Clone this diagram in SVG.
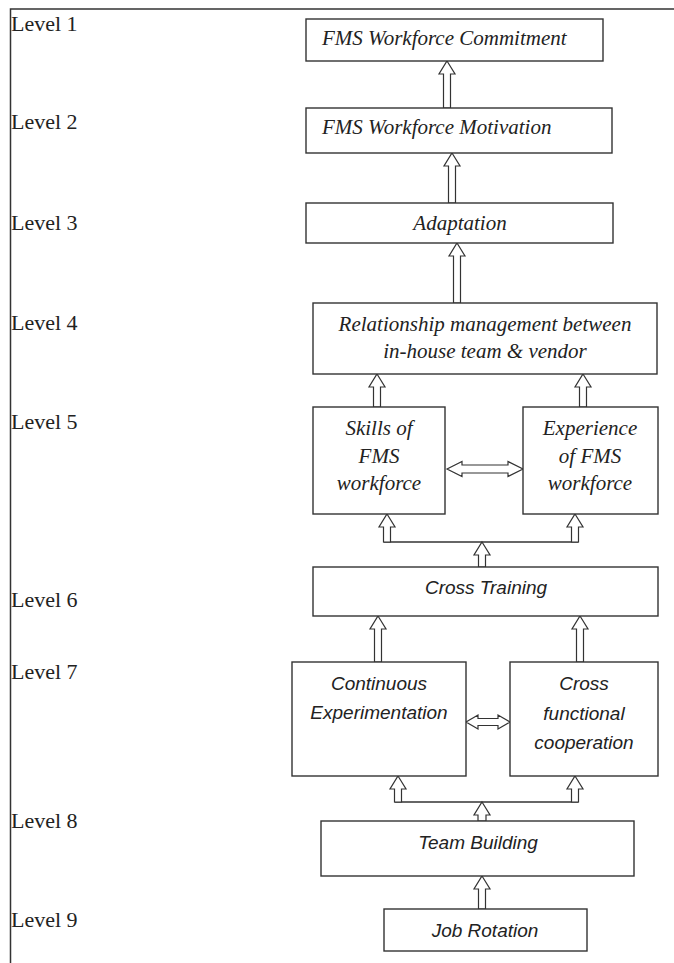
<svg xmlns="http://www.w3.org/2000/svg" width="674" height="963" viewBox="0 0 674 963">
<style>
.frame{fill:none;stroke:#333;stroke-width:1.5}
.box{fill:#fff;stroke:#333;stroke-width:1.4}
.arr{fill:#fff;stroke:#333;stroke-width:1.2;stroke-linejoin:miter}
.ln{fill:none;stroke:#333;stroke-width:1.4}
.lvl{font-family:"Liberation Serif","Times New Roman",serif;font-size:22px;fill:#222}
.ser{font-family:"Liberation Serif","Times New Roman",serif;font-size:21px;font-style:italic;fill:#222}
.sans{font-family:"Liberation Sans",Arial,sans-serif;font-size:19px;font-style:italic;fill:#222}
.c{text-anchor:middle}
</style>
<rect width="674" height="963" fill="#fff"/>
<g id="frame">
<path class="frame" d="M10.5,963 V9 H674"/>
</g>
<g id="levels">
<text class="lvl" x="11" y="31">Level 1</text>
<text class="lvl" x="11" y="129">Level 2</text>
<text class="lvl" x="11" y="230">Level 3</text>
<text class="lvl" x="11" y="330">Level 4</text>
<text class="lvl" x="11" y="429">Level 5</text>
<text class="lvl" x="11" y="607">Level 6</text>
<text class="lvl" x="11" y="679">Level 7</text>
<text class="lvl" x="11" y="828">Level 8</text>
<text class="lvl" x="11" y="927">Level 9</text>
</g>
<g id="connectors">
<path class="arr" d="M447,61 L455,74 L450.5,74 L450.5,108 L443.5,108 L443.5,74 L439,74 Z"/>
<path class="arr" d="M452,153 L460,166 L455.5,166 L455.5,203 L448.5,203 L448.5,166 L444,166 Z"/>
<path class="arr" d="M457,243 L465,256 L460.5,256 L460.5,303 L453.5,303 L453.5,256 L449,256 Z"/>
<path class="arr" d="M377,374 L385,387 L380.5,387 L380.5,407 L373.5,407 L373.5,387 L369,387 Z"/>
<path class="arr" d="M583,374 L591,387 L586.5,387 L586.5,407 L579.5,407 L579.5,387 L575,387 Z"/>
<path class="ln" d="M383.5,542 H578.5"/>
<path class="arr" d="M387,514 L395,527 L390.5,527 L390.5,542 L383.5,542 L383.5,527 L379,527 Z"/>
<path class="arr" d="M575,514 L583,527 L578.5,527 L578.5,542 L571.5,542 L571.5,527 L567,527 Z"/>
<path class="arr" d="M482,542 L490,555 L485.5,555 L485.5,567 L478.5,567 L478.5,555 L474,555 Z"/>
<path class="arr" d="M378,616 L386,629 L381.5,629 L381.5,662 L374.5,662 L374.5,629 L370,629 Z"/>
<path class="arr" d="M580,616 L588,629 L583.5,629 L583.5,662 L576.5,662 L576.5,629 L572,629 Z"/>
<path class="ln" d="M394.5,802 H578.5"/>
<path class="arr" d="M398,776 L406,789 L401.5,789 L401.5,802 L394.5,802 L394.5,789 L390,789 Z"/>
<path class="arr" d="M575,776 L583,789 L578.5,789 L578.5,802 L571.5,802 L571.5,789 L567,789 Z"/>
<path class="arr" d="M482,802 L490,815 L486,815 L486,821 L478,821 L478,815 L474,815 Z"/>
<path class="arr" d="M482,876 L490,889 L485.5,889 L485.5,909 L478.5,909 L478.5,889 L474,889 Z"/>
<path class="arr" d="M447,469 L462,461.5 L462,465 L508,465 L508,461.5 L523,469 L508,476.5 L508,473 L462,473 L462,476.5 Z"/>
<path class="arr" d="M466,722 L478,715 L478,718.5 L498,718.5 L498,715 L510,722 L498,729 L498,725.5 L478,725.5 L478,729 Z"/>
</g>
<g id="n1">
<rect class="box" x="306" y="19" width="297" height="42"/>
<text class="ser" x="322" y="45">FMS Workforce Commitment</text>
</g>
<g id="n2">
<rect class="box" x="306" y="108" width="306" height="45"/>
<text class="ser" x="322" y="134">FMS Workforce Motivation</text>
</g>
<g id="n3">
<rect class="box" x="306" y="203" width="307" height="40"/>
<text class="ser c" x="460" y="230">Adaptation</text>
</g>
<g id="n4">
<rect class="box" x="313" y="303" width="344" height="71"/>
<text class="ser c" x="485" y="331">Relationship management between</text>
<text class="ser c" x="485" y="358">in-house team &amp; vendor</text>
</g>
<g id="n5">
<rect class="box" x="313" y="407" width="132" height="107"/>
<text class="ser c" x="379" y="435">Skills of</text>
<text class="ser c" x="379" y="463">FMS</text>
<text class="ser c" x="379" y="490">workforce</text>
</g>
<g id="n6">
<rect class="box" x="523" y="407" width="135" height="107"/>
<text class="ser c" x="590" y="435">Experience</text>
<text class="ser c" x="590" y="463">of FMS</text>
<text class="ser c" x="590" y="490">workforce</text>
</g>
<g id="n7">
<rect class="box" x="313" y="567" width="345" height="49"/>
<text class="sans c" x="486" y="594">Cross Training</text>
</g>
<g id="n8">
<rect class="box" x="292" y="662" width="174" height="114"/>
<text class="sans c" x="379" y="690">Continuous</text>
<text class="sans c" x="379" y="719">Experimentation</text>
</g>
<g id="n9">
<rect class="box" x="510" y="662" width="148" height="114"/>
<text class="sans c" x="584" y="690">Cross</text>
<text class="sans c" x="584" y="720">functional</text>
<text class="sans c" x="584" y="749">cooperation</text>
</g>
<g id="n10">
<rect class="box" x="321" y="821" width="313" height="55"/>
<text class="sans c" x="478" y="849">Team Building</text>
</g>
<g id="n11">
<rect class="box" x="384" y="909" width="203" height="42"/>
<text class="sans c" x="485" y="937">Job Rotation</text>
</g>
</svg>
